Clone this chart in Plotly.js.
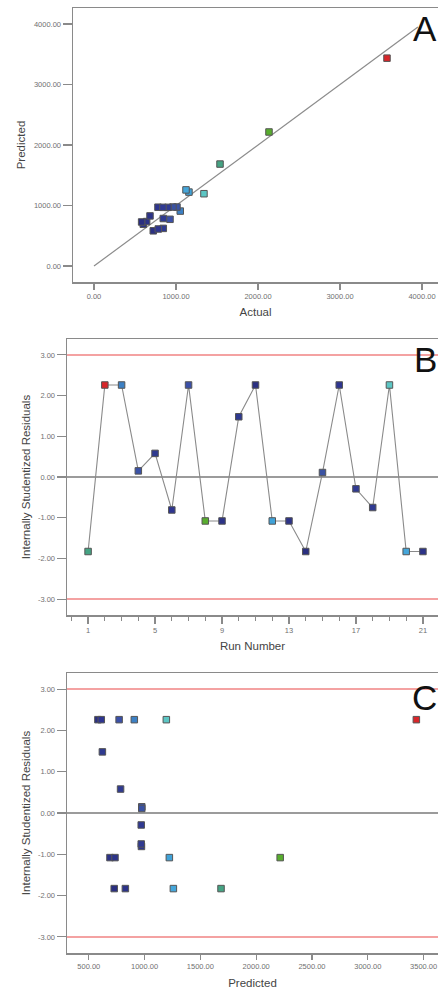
<!DOCTYPE html>
<html>
<head>
<meta charset="utf-8">
<script src="https://cdn.plot.ly/plotly-3.0.1.min.js"></script>
<style>
html,body{margin:0;padding:0;background:#fff;overflow:hidden;}
#chart{width:438px;height:990px;}
</style>
</head>
<body>
<div id="chart"></div>
<script>
// ---- data ----
const runs = [1,2,3,4,5,6,7,8,9,10,11,12,13,14,15,16,17,18,19,20,21];
const residuals = [-1.83,2.26,2.26,0.15,0.58,-0.81,2.26,-1.08,-1.08,1.48,2.26,-1.08,-1.08,-1.83,0.11,2.26,-0.29,-0.75,2.26,-1.83,-1.83];
const predicted = [1685,3435,908,975,785,972,772,2215,690,622,582,1222,735,728,975,612,970,970,1195,1258,828];
const actual    = [1537,3573,1052,1012,845,780,927,2134,601,845,723,1158,642,581,963,784,902,841,1341,1122,683];
const pointColors = ['#45a383','#d8262a','#3c80c4','#3a52a6','#2f3a90','#2e3590','#3b50a8','#58ad2e','#2c3388','#2f3a90','#2b3082',
                     '#40a2d8','#2c3388','#2a2f80','#3a52a2','#2e3590','#303a92','#303a92','#5cc6c4','#45a6da','#2c3388'];
const diagEnds = [0, 3950];
const limitValues = [3, -3];
const zeroValue = [0];

const aXTicks = [0,1000,2000,3000,4000];
const aXText  = ['0.00','1000.00','2000.00','3000.00','4000.00'];
const aYTicks = [0,1000,2000,3000,4000];
const aYText  = ['0.00','1000.00','2000.00','3000.00','4000.00'];
const resTicks = [-3,-2,-1,0,1,2,3];
const resText  = ['-3.00','-2.00','-1.00','0.00','1.00','2.00','3.00'];
const runTicks = [1,5,9,13,17,21];
const runText  = ['1','5','9','13','17','21'];
const cXTicks = [500,1000,1500,2000,2500,3000,3500];
const cXText  = ['500.00','1000.00','1500.00','2000.00','2500.00','3000.00','3500.00'];

// ---- styling ----
const W = 438, H = 990;
const px = v => v / W;
const py = v => 1 - v / H;
const axisColor = '#8a8a8a';
const tickFont = {family: 'Liberation Sans, Arial, sans-serif', size: 7.5, color: '#707070'};
const titleFont = {family: 'Liberation Sans, Arial, sans-serif', size: 11.5, color: '#444'};
const markerStyle = {symbol: 'square', size: 6.5, color: pointColors, line: {color: '#555', width: 1}};

function baseAxis(extra) {
  return Object.assign({
    showline: true, linecolor: axisColor, linewidth: 1.5,
    showgrid: false, zeroline: false,
    ticks: 'outside', tickcolor: axisColor, tickwidth: 1.2,
    tickfont: tickFont, tickmode: 'array', fixedrange: true
  }, extra);
}

const traces = [
  {x: diagEnds, y: diagEnds, mode: 'lines', line: {color: '#8c8c8c', width: 1.2}, xaxis: 'x', yaxis: 'y', hoverinfo: 'skip'},
  {x: actual, y: predicted, mode: 'markers', marker: markerStyle, xaxis: 'x', yaxis: 'y'},
  {x: runs, y: residuals, mode: 'lines+markers', line: {color: '#8a8a8a', width: 1.1}, marker: markerStyle, xaxis: 'x2', yaxis: 'y2'},
  {x: predicted, y: residuals, mode: 'markers', marker: markerStyle, xaxis: 'x3', yaxis: 'y3'}
];

const shapes = [];
[['x2','y2'],['x3','y3']].forEach(([xa, ya]) => {
  limitValues.forEach(v => shapes.push({type: 'line', xref: xa + ' domain', yref: ya, x0: 0, x1: 1, y0: v, y1: v,
    line: {color: '#f4a2a2', width: 2}, layer: 'below'}));
  zeroValue.forEach(v => shapes.push({type: 'line', xref: xa + ' domain', yref: ya, x0: 0, x1: 1, y0: v, y1: v,
    line: {color: '#7a7a7a', width: 1.5}, layer: 'below'}));
});

const letterFont = {family: 'Liberation Sans, Arial, sans-serif', size: 35, color: '#111'};
const annotations = [
  {text: 'A', xref: 'paper', yref: 'paper', x: px(438), y: py(29), xanchor: 'right', yanchor: 'middle', showarrow: false, font: letterFont, borderpad: 0},
  {text: 'B', xref: 'paper', yref: 'paper', x: px(438), y: py(359), xanchor: 'right', yanchor: 'middle', showarrow: false, font: letterFont, borderpad: 0},
  {text: 'C', xref: 'paper', yref: 'paper', x: px(438), y: py(697), xanchor: 'right', yanchor: 'middle', showarrow: false, font: letterFont, borderpad: 0}
];

const layout = {
  width: W, height: H,
  margin: {l: 0, r: 0, t: 0, b: 0},
  paper_bgcolor: '#fff', plot_bgcolor: '#fff',
  showlegend: false,
  xaxis: baseAxis({domain: [px(73), 1], range: [-256, 4195], anchor: 'y', mirror: true, ticklen: 6,
    tickvals: aXTicks, ticktext: aXText, title: {text: 'Actual', font: titleFont, standoff: 8}}),
  yaxis: baseAxis({domain: [py(282), py(8)], range: [-264, 4264], anchor: 'x', ticklen: 9,
    tickvals: aYTicks, ticktext: aYText, title: {text: 'Predicted', font: titleFont, standoff: 6}}),
  xaxis2: baseAxis({domain: [px(67), 1], range: [-0.26, 21.9], anchor: 'y2', mirror: true, ticklen: 7,
    tickvals: runTicks, ticktext: runText,
    minor: {tickmode: 'linear', tick0: 0, dtick: 1, ticks: 'outside', ticklen: 4, tickcolor: axisColor, tickwidth: 1},
    title: {text: 'Run Number', font: titleFont, standoff: 8}}),
  yaxis2: baseAxis({domain: [py(615), py(339)], range: [-3.39, 3.39], anchor: 'x2', ticklen: 9,
    tickvals: resTicks, ticktext: resText, title: {text: 'Internally Studentized Residuals', font: titleFont, standoff: 5}}),
  xaxis3: baseAxis({domain: [px(67), 1], range: [305, 3629], anchor: 'y3', mirror: true, ticklen: 5,
    tickvals: cXTicks, ticktext: cXText, title: {text: 'Predicted', font: titleFont, standoff: 9}}),
  yaxis3: baseAxis({domain: [py(953), py(673)], range: [-3.39, 3.39], anchor: 'x3', ticklen: 9,
    tickvals: resTicks, ticktext: resText, title: {text: 'Internally Studentized Residuals', font: titleFont, standoff: 5}}),
  shapes: shapes,
  annotations: annotations
};

Plotly.newPlot('chart', traces, layout, {displayModeBar: false, staticPlot: true});
</script>
</body>
</html>
